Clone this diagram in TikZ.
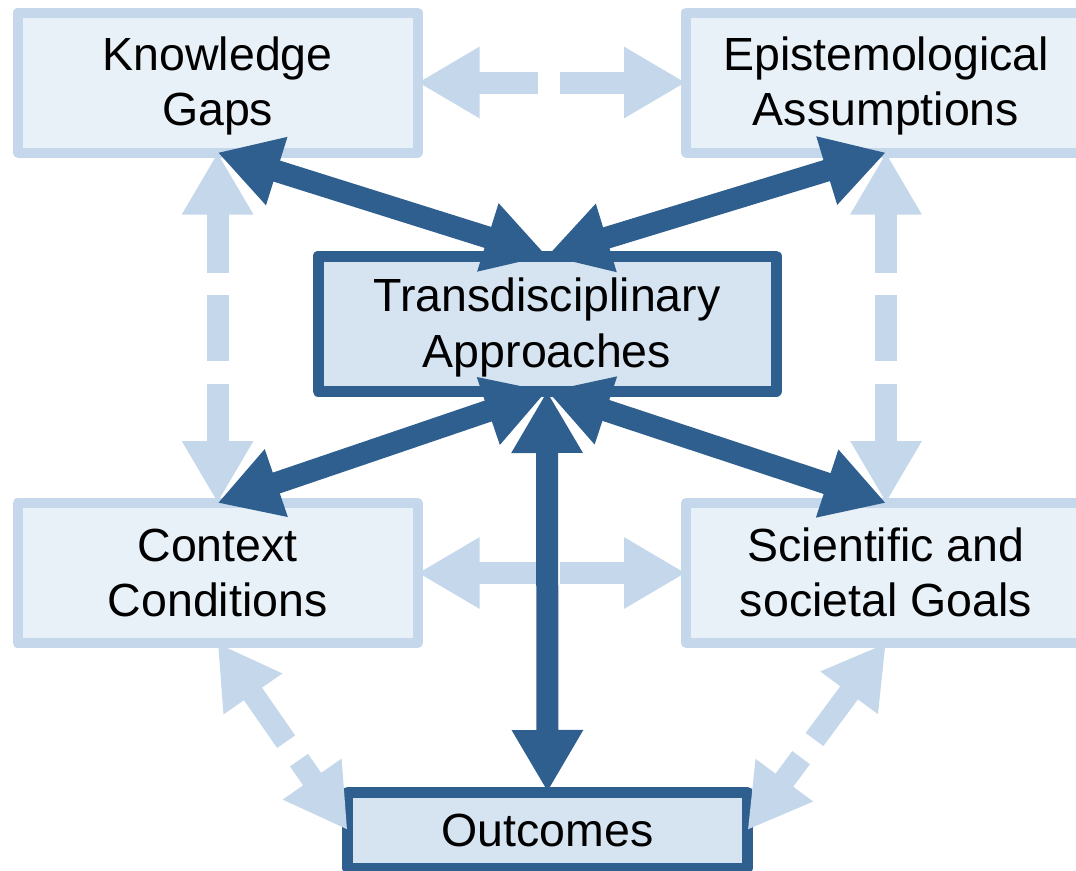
\documentclass[tikz,border=0pt]{standalone}
\usepackage{fontspec}
\setmainfont{Liberation Sans}
\usetikzlibrary{arrows.meta}

\definecolor{paleline}{HTML}{C5D8EB}
\definecolor{palefill}{HTML}{E9F1F8}
\definecolor{coreline}{HTML}{2F5F8E}
\definecolor{corefill}{HTML}{D6E4F1}

% two lines, centred on cap height and last baseline
\newcommand{\twolines}[2]{\vphantom{A}\smash{#1}\\\smash{#2}}

\begin{document}
\begin{tikzpicture}[x=1pt, y=-1pt,
	every node/.style={font=\fontsize{46.5}{55}\selectfont, align=center, inner sep=0pt, outer sep=0pt, line join=round},
	palebox/.style={draw=paleline, fill=palefill, line width=10pt, minimum width=400pt, minimum height=140pt},
	corebox/.style={draw=coreline, fill=corefill, line width=11pt},
	weaklink/.style={draw=paleline, line width=22pt, dash pattern=on 66pt off 22.5pt, dash phase=4pt, {Triangle[length=62pt,width=67pt]}-{Triangle[length=62pt,width=67pt]}},
	stronglink/.style={draw=coreline, line width=22pt, {Triangle[length=62pt,width=67pt]}-{Triangle[length=62pt,width=67pt]}}]
				\useasboundingbox (0, 0) rectangle (1076, 870);
				\clip (0, 0) rectangle (1076, 870);
				\node[palebox] (gaps)at(217.6, 82.5) {\twolines{Knowledge}{Gaps}};
				\node[palebox] (episteme)at(886, 82.5) {\twolines{Epistemological}{Assumptions}};
				\node[corebox, minimum width=458pt, minimum height=135pt] (trans)at(547, 323.5) {\twolines{Transdisciplinary}{Approaches}};
				\node[palebox] (context)at(217.6, 573) {\twolines{Context}{Conditions}};
				\node[palebox] (goals)at(886, 573) {\twolines{Scientific and}{societal Goals}};
				\node[corebox, minimum width=400pt, minimum height=76pt] (outcomes)at(547.5, 830) {Outcomes};
				% pale links between the outer boxes
				\draw[weaklink] (gaps) -- (episteme);
				\draw[weaklink] (context) -- (goals);
				\draw[weaklink] (gaps.south) -- (context.north);
				\draw[weaklink] (episteme.south) -- (goals.north);
				\draw[weaklink] (context.south) -- (outcomes.west);
				\draw[weaklink] (goals.south) -- (outcomes.east);
				% strong links to the centre
				\draw[stronglink] (gaps.south) -- (trans.north);
				\draw[stronglink] (episteme.south) -- (trans.north);
				\draw[stronglink] (trans.south) -- (context.north);
				\draw[stronglink] (trans.south) -- (goals.north);
				\draw[stronglink] (trans.south) -- (outcomes.north);
			\end{tikzpicture}
\end{document}
